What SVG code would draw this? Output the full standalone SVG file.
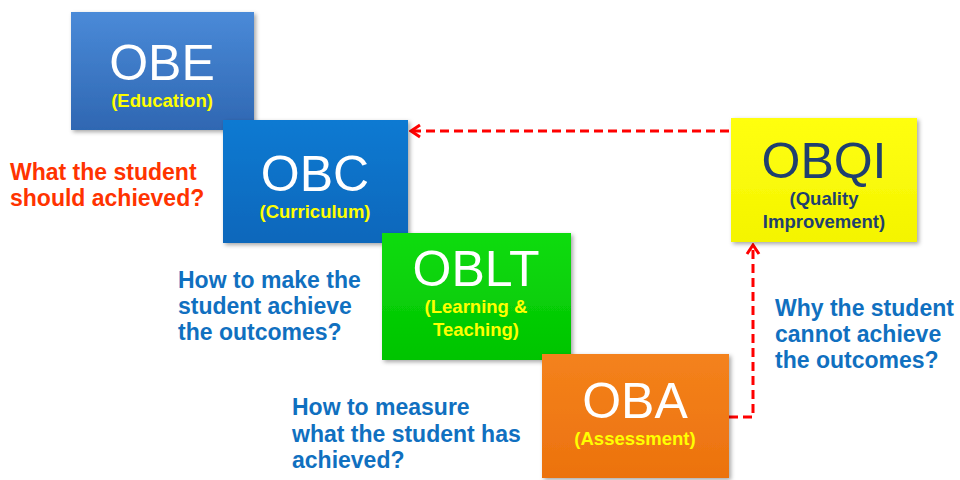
<svg xmlns="http://www.w3.org/2000/svg" width="960" height="480" viewBox="0 0 960 480">
<style>
.t{font-family:"Liberation Sans",Arial,sans-serif;text-anchor:middle}
.big{font-size:50px;fill:#fff}
.sub{font-size:18.5px;font-weight:bold;fill:#ffff00}
.q{font-family:"Liberation Sans",Arial,sans-serif;font-size:23px;font-weight:bold}
.box{filter:url(#sh)}
.conn{fill:none;stroke:#ff0000;stroke-width:3;stroke-dasharray:9,5}
</style>
<defs>
<filter id="sh" x="-10%" y="-10%" width="125%" height="125%"><feDropShadow dx="2" dy="2" stdDeviation="2" flood-color="#000" flood-opacity="0.35"/></filter>
<linearGradient id="gE" x1="0" y1="0" x2="0" y2="1"><stop offset="0" stop-color="#4a8ad8"/><stop offset="1" stop-color="#2f67b2"/></linearGradient>
<linearGradient id="gC" x1="0" y1="0" x2="0" y2="1"><stop offset="0" stop-color="#0f7ad2"/><stop offset="1" stop-color="#0867bb"/></linearGradient>
<linearGradient id="gL" x1="0" y1="0" x2="0" y2="1"><stop offset="0" stop-color="#10dc10"/><stop offset="1" stop-color="#00c400"/></linearGradient>
<linearGradient id="gA" x1="0" y1="0" x2="0" y2="1"><stop offset="0" stop-color="#f4821c"/><stop offset="1" stop-color="#ec720e"/></linearGradient>
<linearGradient id="gQ" x1="0" y1="0" x2="0" y2="1"><stop offset="0" stop-color="#ffff10"/><stop offset="1" stop-color="#f4f400"/></linearGradient>
<marker id="ah" viewBox="0 0 16 16" refX="14" refY="8" markerWidth="16" markerHeight="16" orient="auto" markerUnits="userSpaceOnUse"><path d="M5,2 L14,8 L5,14" fill="none" stroke="#ff0000" stroke-width="3"/></marker>
</defs>
<g id="connectors">
<path class="conn" d="M729,131 H411" marker-end="url(#ah)"/>
<path class="conn" d="M729,417 H753 V245" marker-end="url(#ah)"/>
</g>
<g id="OBE">
<rect class="box" x="71" y="12" width="183" height="118" fill="url(#gE)"/>
<text class="t big" x="162" y="80">OBE</text>
<text class="t sub" x="162" y="107">(Education)</text>
</g>
<g id="OBC">
<rect class="box" x="223" y="120" width="185" height="123" fill="url(#gC)"/>
<text class="t big" x="315" y="191">OBC</text>
<text class="t sub" x="315" y="218">(Curriculum)</text>
</g>
<g id="OBLT">
<rect class="box" x="382" y="233" width="189" height="127" fill="url(#gL)"/>
<text class="t big" x="476" y="286">OBLT</text>
<text class="t sub" x="476" y="313">(Learning &amp;</text>
<text class="t sub" x="476" y="336">Teaching)</text>
</g>
<g id="OBA">
<rect class="box" x="542" y="354" width="187" height="124" fill="url(#gA)"/>
<text class="t big" x="635" y="418">OBA</text>
<text class="t sub" x="635" y="445">(Assessment)</text>
</g>
<g id="OBQI">
<rect class="box" x="731" y="118" width="186" height="124" fill="url(#gQ)"/>
<text class="t big" x="824" y="178" style="fill:#1f3f6f">OBQI</text>
<text class="t sub" x="824" y="205" style="fill:#1f3f6f">(Quality</text>
<text class="t sub" x="824" y="228" style="fill:#1f3f6f">Improvement)</text>
</g>
<g id="labels">
<text class="q" fill="#ff3300"><tspan x="10" y="180">What the student</tspan><tspan x="10" y="206">should achieved?</tspan></text>
<text class="q" fill="#1070c0"><tspan x="178" y="288">How to make the</tspan><tspan x="178" y="314">student achieve</tspan><tspan x="178" y="340">the outcomes?</tspan></text>
<text class="q" fill="#1070c0"><tspan x="292" y="415">How to measure</tspan><tspan x="292" y="442">what the student has</tspan><tspan x="292" y="468">achieved?</tspan></text>
<text class="q" fill="#1070c0"><tspan x="775" y="316">Why the student</tspan><tspan x="775" y="342">cannot achieve</tspan><tspan x="775" y="368">the outcomes?</tspan></text>
</g>
</svg>
